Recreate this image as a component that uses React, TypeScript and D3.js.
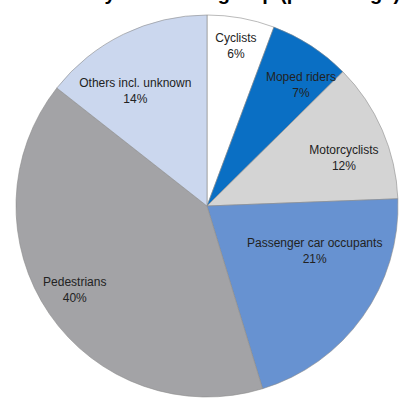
import { useEffect, useRef } from 'react'
import * as d3 from 'd3'

// Road user groups, clockwise from 12 o'clock
const categories = [
  'Cyclists',
  'Moped riders',
  'Motorcyclists',
  'Passenger car occupants',
  'Pedestrians',
  'Others incl. unknown',
]
const shares = [5.7, 6.9, 11.8, 20.9, 40.3, 14.4]
const colors = ['#ffffff', '#0a6fc4', '#d4d4d4', '#6792d1', '#a3a3a6', '#cbd7ee']

const title = 'Fatalities by road user group (percentage)'

// label placement tweaks: radius as fraction of pie radius, angle shift in degrees
const labelPlacement: Record<string, { r: number; da: number }> = {
  'Cyclists': { r: 0.85, da: 0 },
  'Moped riders': { r: 0.8, da: 5 },
  'Motorcyclists': { r: 0.76, da: 4 },
  'Passenger car occupants': { r: 0.61, da: -13 },
  'Pedestrians': { r: 0.82, da: 2 },
  'Others incl. unknown': { r: 0.71, da: -6 },
}

interface Slice {
  name: string
  value: number
  color: string
}

export default function App() {
  const svgRef = useRef<SVGSVGElement>(null)

  useEffect(() => {
    if (!svgRef.current) return
    const width = 411
    const height = 410
    const cx = 207
    const cy = 206
    const radius = 191

    const svg = d3.select(svgRef.current)
    svg.selectAll('*').remove()
    svg.attr('width', width).attr('height', height)

    const data: Slice[] = categories.map((name, i) => ({
      name,
      value: shares[i],
      color: colors[i],
    }))

    // title, mostly cropped off the top edge
    svg.append('text')
      .attr('x', 0)
      .attr('y', 0)
      .style('font-family', 'Arial, "Liberation Sans", sans-serif')
      .style('font-weight', 'bold')
      .style('font-size', '20px')
      .attr('fill', '#000')
      .text(title)

    const pie = d3.pie<Slice>()
      .value(d => d.value)
      .sort(null)

    const arc = d3.arc<d3.PieArcDatum<Slice>>()
      .innerRadius(0)
      .outerRadius(radius)

    const g = svg.append('g')
      .attr('transform', `translate(${cx},${cy})`)

    const arcs = pie(data)

    g.selectAll('path')
      .data(arcs)
      .enter().append('path')
      .attr('d', arc)
      .attr('fill', d => d.data.color)
      .attr('stroke', '#8c8c8c')
      .attr('stroke-width', 0.6)

    const labels = g.selectAll('.label')
      .data(arcs)
      .enter().append('text')
      .attr('class', 'label')
      .attr('text-anchor', 'middle')
      .style('font-family', 'Arial, "Liberation Sans", sans-serif')
      .style('font-size', '12px')
      .attr('fill', '#222')
      .attr('transform', d => {
        const p = labelPlacement[d.data.name]
        const a = (d.startAngle + d.endAngle) / 2 + (p.da * Math.PI) / 180
        const r = radius * p.r
        return `translate(${r * Math.sin(a)},${-r * Math.cos(a)})`
      })

    labels.append('tspan')
      .attr('x', 0)
      .attr('y', -4)
      .text(d => d.data.name)

    labels.append('tspan')
      .attr('x', 0)
      .attr('y', 12)
      .text(d => `${Math.round(d.data.value)}%`)
  }, [])

  return (
    <svg
      ref={svgRef}
      style={{ position: 'absolute', left: 0, top: 0, background: '#fff' }}
    />
  )
}
